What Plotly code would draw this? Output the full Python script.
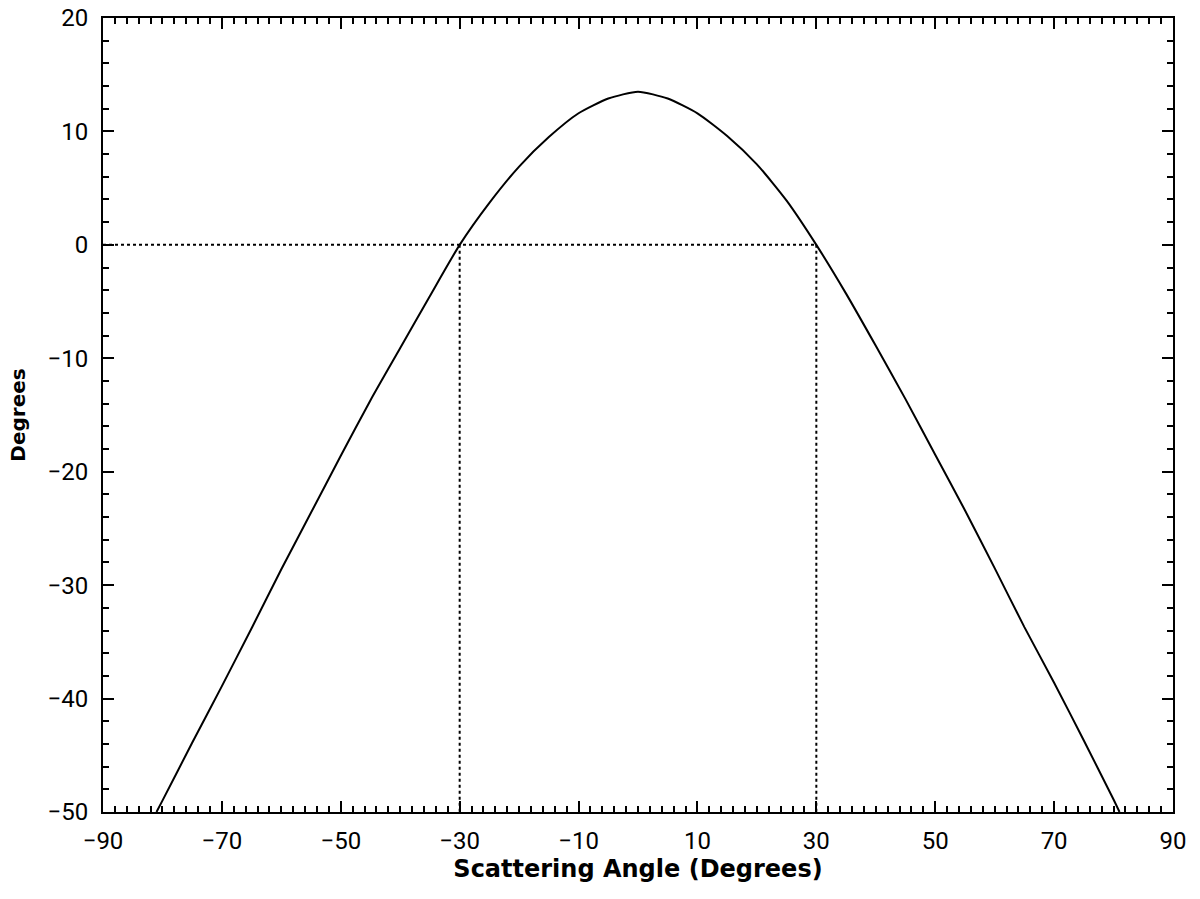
import plotly.graph_objects as go

# Curve
angle = [-81, -80, -75, -70, -65, -60, -55, -50, -45, -40, -35, -30, -25, -20, -15,
         -10, -5, 0, 5, 10, 15, 20, 25, 30, 35, 40, 45, 50, 55, 60, 65, 70, 75, 80, 81]
degrees = [-50, -49.0, -43.9, -38.9, -33.8, -28.6, -23.6, -18.6, -13.7, -9.1, -4.5, 0.0,
           3.7, 6.9, 9.5, 11.6, 12.9, 13.5, 12.9, 11.6, 9.6, 7.1, 3.9, 0.0, -4.3, -8.9,
           -13.6, -18.5, -23.4, -28.5, -33.7, -38.6, -43.7, -48.9, -50]

# Reference (dotted) lines
h_ref_x = [-90, 30]
h_ref_y = [0, 0]
v_ref_left_x = [-30, -30]
v_ref_right_x = [30, 30]
v_ref_y = [0, -50]

x_ticks = [-90, -70, -50, -30, -10, 10, 30, 50, 70, 90]
y_ticks = [-50, -40, -30, -20, -10, 0, 10, 20]


def lbl(v):
    return ("\u2212" + str(-v)) if v < 0 else str(v)


dot = dict(color="black", width=2, dash="3px,3px")

fig = go.Figure()
fig.add_trace(go.Scatter(x=h_ref_x, y=h_ref_y, mode="lines", line=dot, showlegend=False))
fig.add_trace(go.Scatter(x=v_ref_left_x, y=v_ref_y, mode="lines", line=dot, showlegend=False))
fig.add_trace(go.Scatter(x=v_ref_right_x, y=v_ref_y, mode="lines", line=dot, showlegend=False))
fig.add_trace(go.Scatter(x=angle, y=degrees, mode="lines",
                         line=dict(color="black", width=2, shape="spline", smoothing=0.6),
                         showlegend=False))

tickfont = dict(family="Roboto", size=24, color="black")

fig.update_layout(
    width=1200, height=899,
    margin=dict(l=103, r=27, t=18, b=87),
    paper_bgcolor="white", plot_bgcolor="white",
    xaxis=dict(
        range=[-90, 90], tickmode="array", tickvals=x_ticks,
        ticktext=[lbl(v) for v in x_ticks],
        ticks="inside", ticklen=11, tickwidth=2, tickcolor="black",
        minor=dict(dtick=2, tick0=-90, ticks="inside", ticklen=6, tickwidth=1.6, tickcolor="black"),
        showline=True, linecolor="black", linewidth=2, mirror="allticks",
        showgrid=False, zeroline=False, tickfont=tickfont, automargin=False,
        ticklabelstandoff=6, ticklabeloverflow="allow",
        title=dict(text="<b>Scattering Angle (Degrees)</b>",
                   font=dict(family="DejaVu Sans", size=24, color="black"), standoff=4),
    ),
    yaxis=dict(
        range=[-50, 20], tickmode="array", tickvals=y_ticks,
        ticktext=[lbl(v) for v in y_ticks],
        ticks="inside", ticklen=11, tickwidth=2, tickcolor="black",
        minor=dict(dtick=2, tick0=-50, ticks="inside", ticklen=6, tickwidth=1.6, tickcolor="black"),
        showline=True, linecolor="black", linewidth=2, mirror="allticks",
        showgrid=False, zeroline=False, tickfont=tickfont, automargin=False,
        ticklabelstandoff=8, ticklabeloverflow="allow",
        title=dict(text="<b>Degrees</b>",
                   font=dict(family="DejaVu Sans", size=20, color="black"), standoff=16),
    ),
)

fig.write_html("out.html", config={"displayModeBar": False},
               post_script="document.body.style.margin='0';")
